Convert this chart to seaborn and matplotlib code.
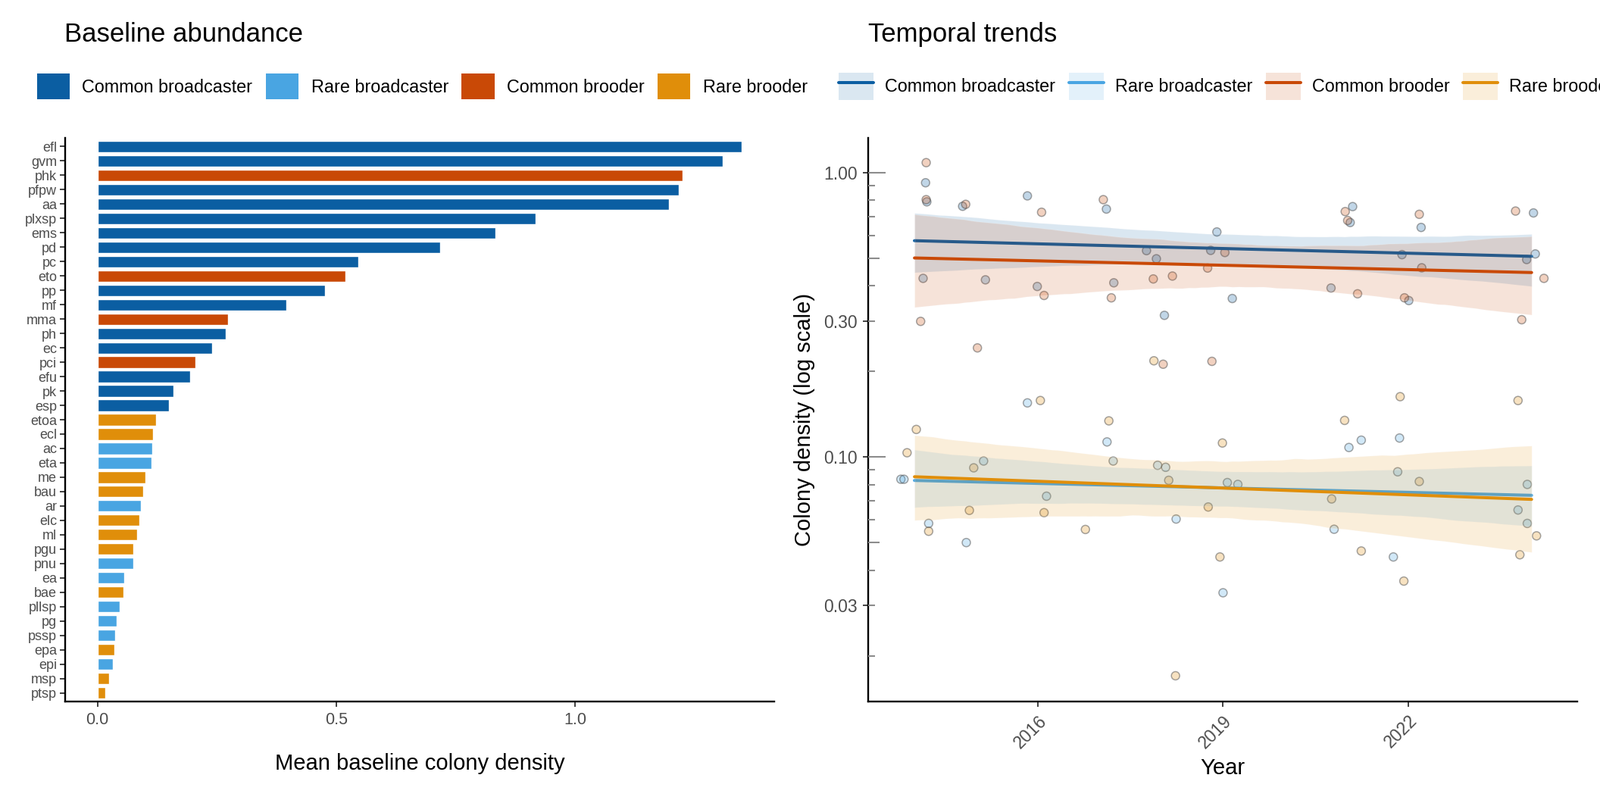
import numpy as np
import pandas as pd
import matplotlib
matplotlib.use('Agg')
import matplotlib.pyplot as plt
import seaborn as sns
from matplotlib.patches import Patch
from matplotlib.lines import Line2D

# groups and colours
groups = ['Common broadcaster', 'Rare broadcaster', 'Common brooder', 'Rare brooder']
group_colors = ['#0B5EA2', '#49A5E2', '#C94906', '#E08E0A']

# baseline abundance per species (0 = CB, 1 = RB, 2 = CBr, 3 = RBr)
species = ['efl', 'gvm', 'phk', 'pfpw', 'aa', 'plxsp', 'ems', 'pd', 'pc', 'eto',
           'pp', 'mf', 'mma', 'ph', 'ec', 'pci', 'efu', 'pk', 'esp', 'etoa',
           'ecl', 'ac', 'eta', 'me', 'bau', 'ar', 'elc', 'ml', 'pgu', 'pnu',
           'ea', 'bae', 'pllsp', 'pg', 'pssp', 'epa', 'epi', 'msp', 'ptsp']
species_group = [0, 0, 2, 0, 0, 0, 0, 0, 0, 2,
                 0, 0, 2, 0, 0, 2, 0, 0, 0, 3,
                 3, 1, 1, 3, 3, 1, 3, 3, 3, 1,
                 1, 3, 1, 1, 1, 3, 1, 3, 3]
baseline_density = [1.349, 1.308, 1.224, 1.217, 1.196, 0.917, 0.833, 0.718, 0.546, 0.519,
                    0.477, 0.396, 0.274, 0.269, 0.240, 0.205, 0.194, 0.159, 0.150, 0.123,
                    0.117, 0.115, 0.113, 0.101, 0.096, 0.091, 0.088, 0.083, 0.075, 0.075,
                    0.056, 0.055, 0.047, 0.040, 0.037, 0.036, 0.033, 0.025, 0.017]

# temporal data: survey year (same layout for every group), jittered x and density
survey_year = [2014, 2014, 2014, 2015, 2015, 2016, 2016, 2017, 2017, 2018, 2018, 2018,
               2019, 2019, 2019, 2021, 2021, 2021, 2022, 2022, 2022, 2024, 2024, 2024]

cb_x = [2014.18, 2014.20, 2014.14, 2014.78, 2015.15, 2015.83, 2015.99, 2017.11, 2017.23, 2017.76, 2017.92, 2018.05,
        2018.90, 2018.80, 2019.15, 2021.10, 2021.06, 2020.75, 2022.21, 2022.01, 2021.90, 2024.03, 2024.06, 2023.92]
cb_dens = [0.922, 0.790, 0.425, 0.762, 0.420, 0.829, 0.398, 0.745, 0.410, 0.532, 0.498, 0.315,
           0.619, 0.533, 0.361, 0.760, 0.668, 0.393, 0.642, 0.355, 0.515, 0.722, 0.518, 0.495]

rb_x = [2013.78, 2013.83, 2014.23, 2015.12, 2014.84, 2015.83, 2016.14, 2017.12, 2017.22, 2017.94, 2018.07, 2018.24,
        2019.07, 2019.24, 2019.00, 2021.24, 2021.04, 2020.80, 2021.86, 2021.83, 2021.76, 2023.93, 2023.78, 2023.93]
rb_dens = [0.0835, 0.0835, 0.0584, 0.0968, 0.0500, 0.155, 0.0728, 0.113, 0.0968, 0.0935, 0.0920, 0.0605,
           0.0813, 0.0801, 0.0333, 0.1146, 0.108, 0.0557, 0.1166, 0.0887, 0.0445, 0.0801, 0.0651, 0.0584]

cbr_x = [2014.19, 2014.19, 2014.10, 2014.83, 2015.02, 2016.06, 2016.10, 2017.06, 2017.19, 2017.87, 2018.18, 2018.03,
         2019.03, 2018.75, 2018.82, 2020.98, 2021.02, 2021.18, 2022.18, 2021.94, 2022.22, 2023.74, 2024.20, 2023.84]
cbr_dens = [1.085, 0.804, 0.300, 0.774, 0.242, 0.726, 0.370, 0.804, 0.363, 0.423, 0.433, 0.212,
            0.524, 0.462, 0.217, 0.730, 0.679, 0.375, 0.714, 0.363, 0.463, 0.733, 0.425, 0.304]

rbr_x = [2014.03, 2013.88, 2014.23, 2014.96, 2014.89, 2016.04, 2016.10, 2017.15, 2016.77, 2017.88, 2018.12, 2018.23,
         2018.99, 2018.76, 2018.95, 2020.97, 2020.76, 2021.24, 2021.87, 2022.18, 2021.93, 2023.78, 2024.08, 2023.81]
rbr_dens = [0.125, 0.1035, 0.0548, 0.0916, 0.0649, 0.158, 0.0637, 0.134, 0.0556, 0.218, 0.0828, 0.0170,
            0.112, 0.0667, 0.0445, 0.1345, 0.0712, 0.0467, 0.163, 0.082, 0.0366, 0.158, 0.0528, 0.0453]

y_ticks = [0.03, 0.1, 0.3, 1.0]
y_tick_labels = ['0.03', '0.10', '0.30', '1.00']
x_ticks = [2016, 2019, 2022]

# build data frames
bar_df = pd.DataFrame({'species': species,
                       'group': [groups[g] for g in species_group],
                       'density': baseline_density})

parts = []
for g, xs, ds in zip(groups, [cb_x, rb_x, cbr_x, rbr_x], [cb_dens, rb_dens, cbr_dens, rbr_dens]):
    parts.append(pd.DataFrame({'group': g, 'year': survey_year, 'x_jit': xs, 'density': ds}))
trend_df = pd.concat(parts, ignore_index=True)
trend_df['logd'] = np.log10(trend_df['density'])

sns.set_theme(style='ticks')
plt.rcParams['font.family'] = ['Liberation Sans', 'DejaVu Sans']
plt.rcParams['text.color'] = 'black'

W, H = 2112, 1056
fig = plt.figure(figsize=(W / 100, H / 100), dpi=100)
ax1 = fig.add_axes([86 / W, 1 - 926 / H, 936 / W, 744 / H])
ax2 = fig.add_axes([1146 / W, 1 - 926 / H, 936 / W, 744 / H])

text_grey = '#4D4D4D'
tick_grey = '#333333'

# left: baseline abundance bars
sns.barplot(data=bar_df, y='species', x='density', hue='group', hue_order=groups,
            palette=group_colors, order=species, dodge=False, width=0.8,
            saturation=1, errorbar=None, legend=False, ax=ax1)
ax1.set_xlim(-0.0675, 1.4165)
ax1.set_ylim(len(species) - 0.4, -0.6)
ax1.set_xticks([0, 0.5, 1.0])
ax1.set_xticklabels(['0.0', '0.5', '1.0'])
ax1.set_ylabel('')
ax1.set_xlabel('Mean baseline colony density', fontsize=21, color='black', labelpad=24)
ax1.tick_params(axis='y', labelsize=13, length=5, width=1.3, color=tick_grey, labelcolor=text_grey, pad=3)
ax1.tick_params(axis='x', labelsize=15.5, length=5, width=1.3, color=tick_grey, labelcolor=text_grey, pad=5)

# right: temporal trends on log scale
sns.scatterplot(data=trend_df, x='x_jit', y='logd', hue='group', hue_order=groups,
                palette=group_colors, s=62, legend=False, ax=ax2, zorder=1)
pts = ax2.collections[-1]
fc = pts.get_facecolors()
fc[:, 3] = 0.25
pts.set_facecolors(fc)
pts.set_edgecolors((0.3, 0.3, 0.3, 0.5))
pts.set_linewidths(1.1)

for i, (g, c) in enumerate(zip(groups, group_colors)):
    sub = trend_df[trend_df['group'] == g]
    n_lines, n_coll = len(ax2.lines), len(ax2.collections)
    sns.regplot(data=sub, x='year', y='logd', scatter=False, color=c, ci=95, seed=3,
                truncate=True, line_kws={'lw': 2.9}, ax=ax2)
    for ln in ax2.lines[n_lines:]:
        ln.set_zorder(3 + 2 * i)
    for coll in ax2.collections[n_coll:]:
        coll.set_zorder(2 + 2 * i)

ymin, ymax = np.log10(0.0138), np.log10(1.326)
ax2.set_xlim(2013.25, 2024.74)
ax2.set_ylim(ymin, ymax)
ax2.set_yticks(np.log10(y_ticks))
ax2.set_yticklabels(y_tick_labels)
ax2.set_xticks(x_ticks)
ax2.set_xticklabels([str(t) for t in x_ticks], rotation=45, ha='right', rotation_mode='anchor')
ax2.set_xlabel('Year', fontsize=21, color='black', labelpad=6)
ax2.set_ylabel('Colony density (log scale)', fontsize=21, color='black', labelpad=8)
ax2.tick_params(axis='both', labelsize=16.5, length=5, width=1.3, color=tick_grey, labelcolor=text_grey, pad=5)

# log ticks inside the panel
for dec in [0.01, 0.1, 1.0]:
    for k in range(1, 10):
        lv = np.log10(k * dec)
        if lv < ymin or lv > ymax:
            continue
        tick_len = 23 if k == 1 else (15 if k == 5 else 9)
        ax2.plot([0, tick_len / 936], [lv, lv], transform=ax2.get_yaxis_transform(),
                 color='#8C8C8C', lw=1.5, solid_capstyle='butt', zorder=10)

for ax in (ax1, ax2):
    sns.despine(ax=ax)
    for side in ('left', 'bottom'):
        ax.spines[side].set_linewidth(1.7)
        ax.spines[side].set_color('black')

# titles
fig.text(85 / W, 1 - 55 / H, 'Baseline abundance', fontsize=25, va='baseline', ha='left', color='black')
fig.text(1146 / W, 1 - 55 / H, 'Temporal trends', fontsize=25, va='baseline', ha='left', color='black')

# legends
bar_handles = [Patch(facecolor=c, edgecolor='none') for c in group_colors]
fig.legend(bar_handles, groups, loc='center left', bbox_to_anchor=(49 / W, 1 - 114 / H),
           ncol=4, frameon=False, fontsize=16.8, handlelength=1.85, handleheight=1.8,
           handletextpad=0.7, columnspacing=0.75, borderaxespad=0, borderpad=0,
           labelcolor='black')

trend_handles = [(Patch(facecolor=c, alpha=0.15, edgecolor='none'), Line2D([], [], color=c, lw=2.9))
                 for c in group_colors]
fig.legend(trend_handles, groups, loc='center left', bbox_to_anchor=(1107 / W, 1 - 114 / H),
           ncol=4, frameon=False, fontsize=16.8, handlelength=1.97, handleheight=1.97,
           handletextpad=0.65, columnspacing=0.75, borderaxespad=0, borderpad=0,
           labelcolor='black')

fig.savefig('out.png', dpi=100)
